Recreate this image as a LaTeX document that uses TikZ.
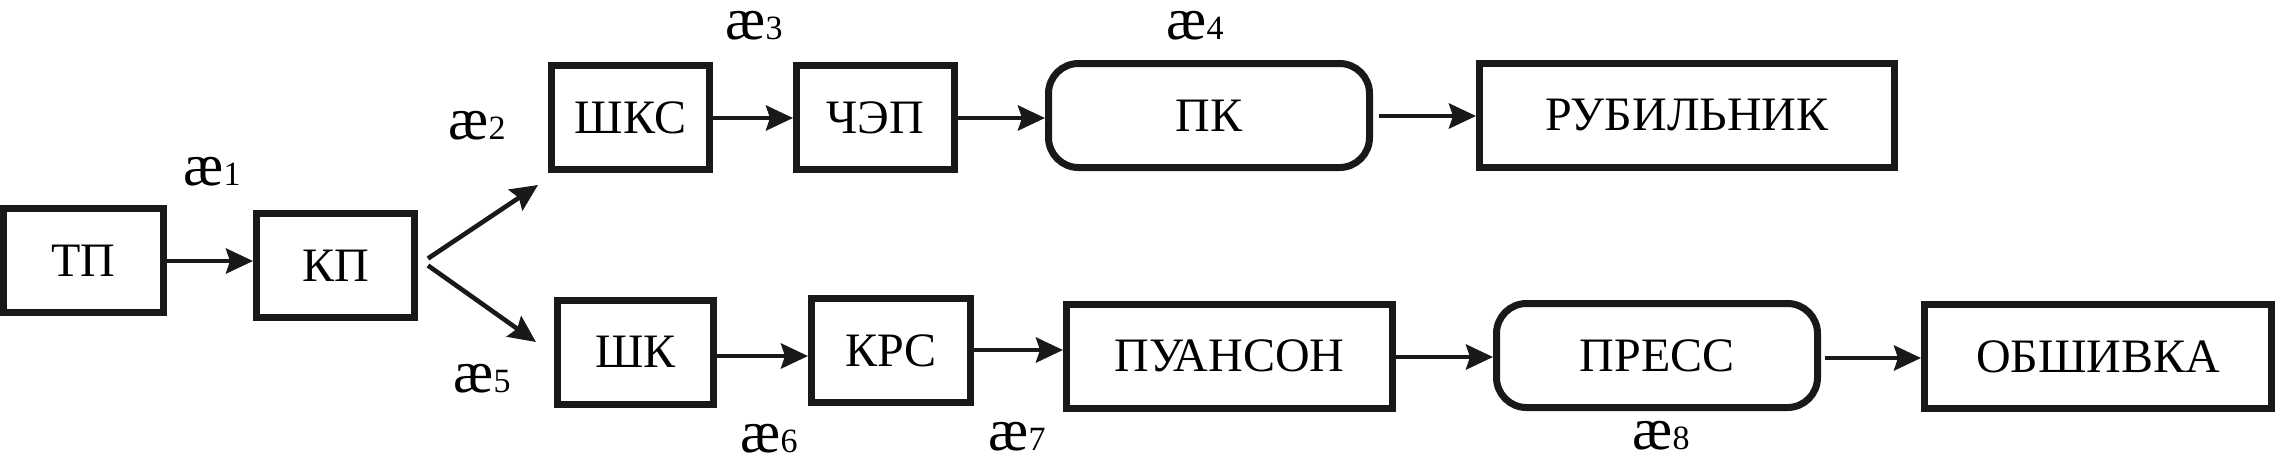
\documentclass[tikz,border=0pt]{standalone}
\usepackage{fontspec}
\setmainfont{Liberation Serif}
\usetikzlibrary{arrows.meta, positioning, shapes}
\tikzset{
        flow/.style={-{Stealth[length=13.5pt, width=12.5pt, inset=2pt]}, line width=2.3pt, draw=black!90}, % connectors
        block/.style={
		draw=black!90,
		line width=3.5pt,
		minimum width={#1},
		minimum height={52pt},
		inner sep=0pt,
		font=\rmfamily\fontsize{24}{28}\selectfont,
	  },
        round block/.style={
		block={#1},
		rounded corners=15pt,
	  },
  		annotation/.style={
    	inner sep=0pt,
    	font=\rmfamily\fontsize{30}{30}\selectfont,
      }
  	}
\newcommand{\aeind}[1]{æ{\fontsize{17}{17}\selectfont #1}}

\begin{document}
\begin{tikzpicture}[x=0.5pt, y=-0.5pt]
    \useasboundingbox (0,0) rectangle (2277,463);
    % first line
    \node [block=80pt] (tp) at (83.5,260.5) {ТП};
    \node [block=79pt] (kp) at (335.5,265.5) {КП};
    \node [block=79pt] (shks) at (630.5,117.5) {ШКС};
    \node [block=79pt] (chep) at (875.5,117.5) {ЧЭП};
    \node [round block=160.5pt] (pk) at (1209,115.5) {ПК};
    \node [block=207.5pt] (rub) at (1687,115.5) {РУБИЛЬНИК};
    % second line
    \node [block=78pt] (shk) at (635.5,352) {ШК};
    \node [block=79.5pt] (krs) at (891,350.5) {КРС};
    \node [block=163pt] (puan) at (1229.5,356) {ПУАНСОН};
    \node [round block=160.5pt] (press) at (1657,355.5) {ПРЕСС};
    \node [block=173.5pt] (obsh) at (2098,356.5) {ОБШИВКА};

    \draw [flow] (tp.east |- 0,261) -- (kp.west |- 0,261);
    \draw [flow] ([xshift=5pt, yshift=3.5pt]kp.east) -- ([xshift=-5pt, yshift=-6pt]shks.south west);
    \draw [flow] ([xshift=5pt, yshift=0pt]kp.east) -- ([xshift=-9pt, yshift=5pt]shk.west);
    \draw [flow] (shks.east |- 0,118) -- (chep.west |- 0,118);
    \draw [flow] (chep.east |- 0,118) -- (pk.west |- 0,118);
    \draw [flow, shorten <=3pt] (pk.east |- 0,116) -- (rub.west |- 0,116);
    \draw [flow] (shk.east |- 0,356) -- (krs.west |- 0,356);
    \draw [flow] (krs.east |- 0,350) -- (puan.west |- 0,350);
    \draw [flow] (puan.east |- 0,357) -- (press.west |- 0,357);
    \draw [flow, shorten <=2pt] (press.east |- 0,358) -- (obsh.west |- 0,358);

    \node [annotation] (ae1) at (212,172) {\aeind{1}};
    \node [annotation] (ae2) at (477,126) {\aeind{2}};
    \node [annotation] (ae3) at (754,26) {\aeind{3}};
    \node [annotation] (ae4) at (1195,26) {\aeind{4}};
    \node [annotation] (ae5) at (482,379) {\aeind{5}};
    \node [annotation] (ae6) at (769,439) {\aeind{6}};
    \node [annotation] (ae7) at (1017,437) {\aeind{7}};
    \node [annotation] (ae8) at (1661,436) {\aeind{8}};
  \end{tikzpicture}
\end{document}
